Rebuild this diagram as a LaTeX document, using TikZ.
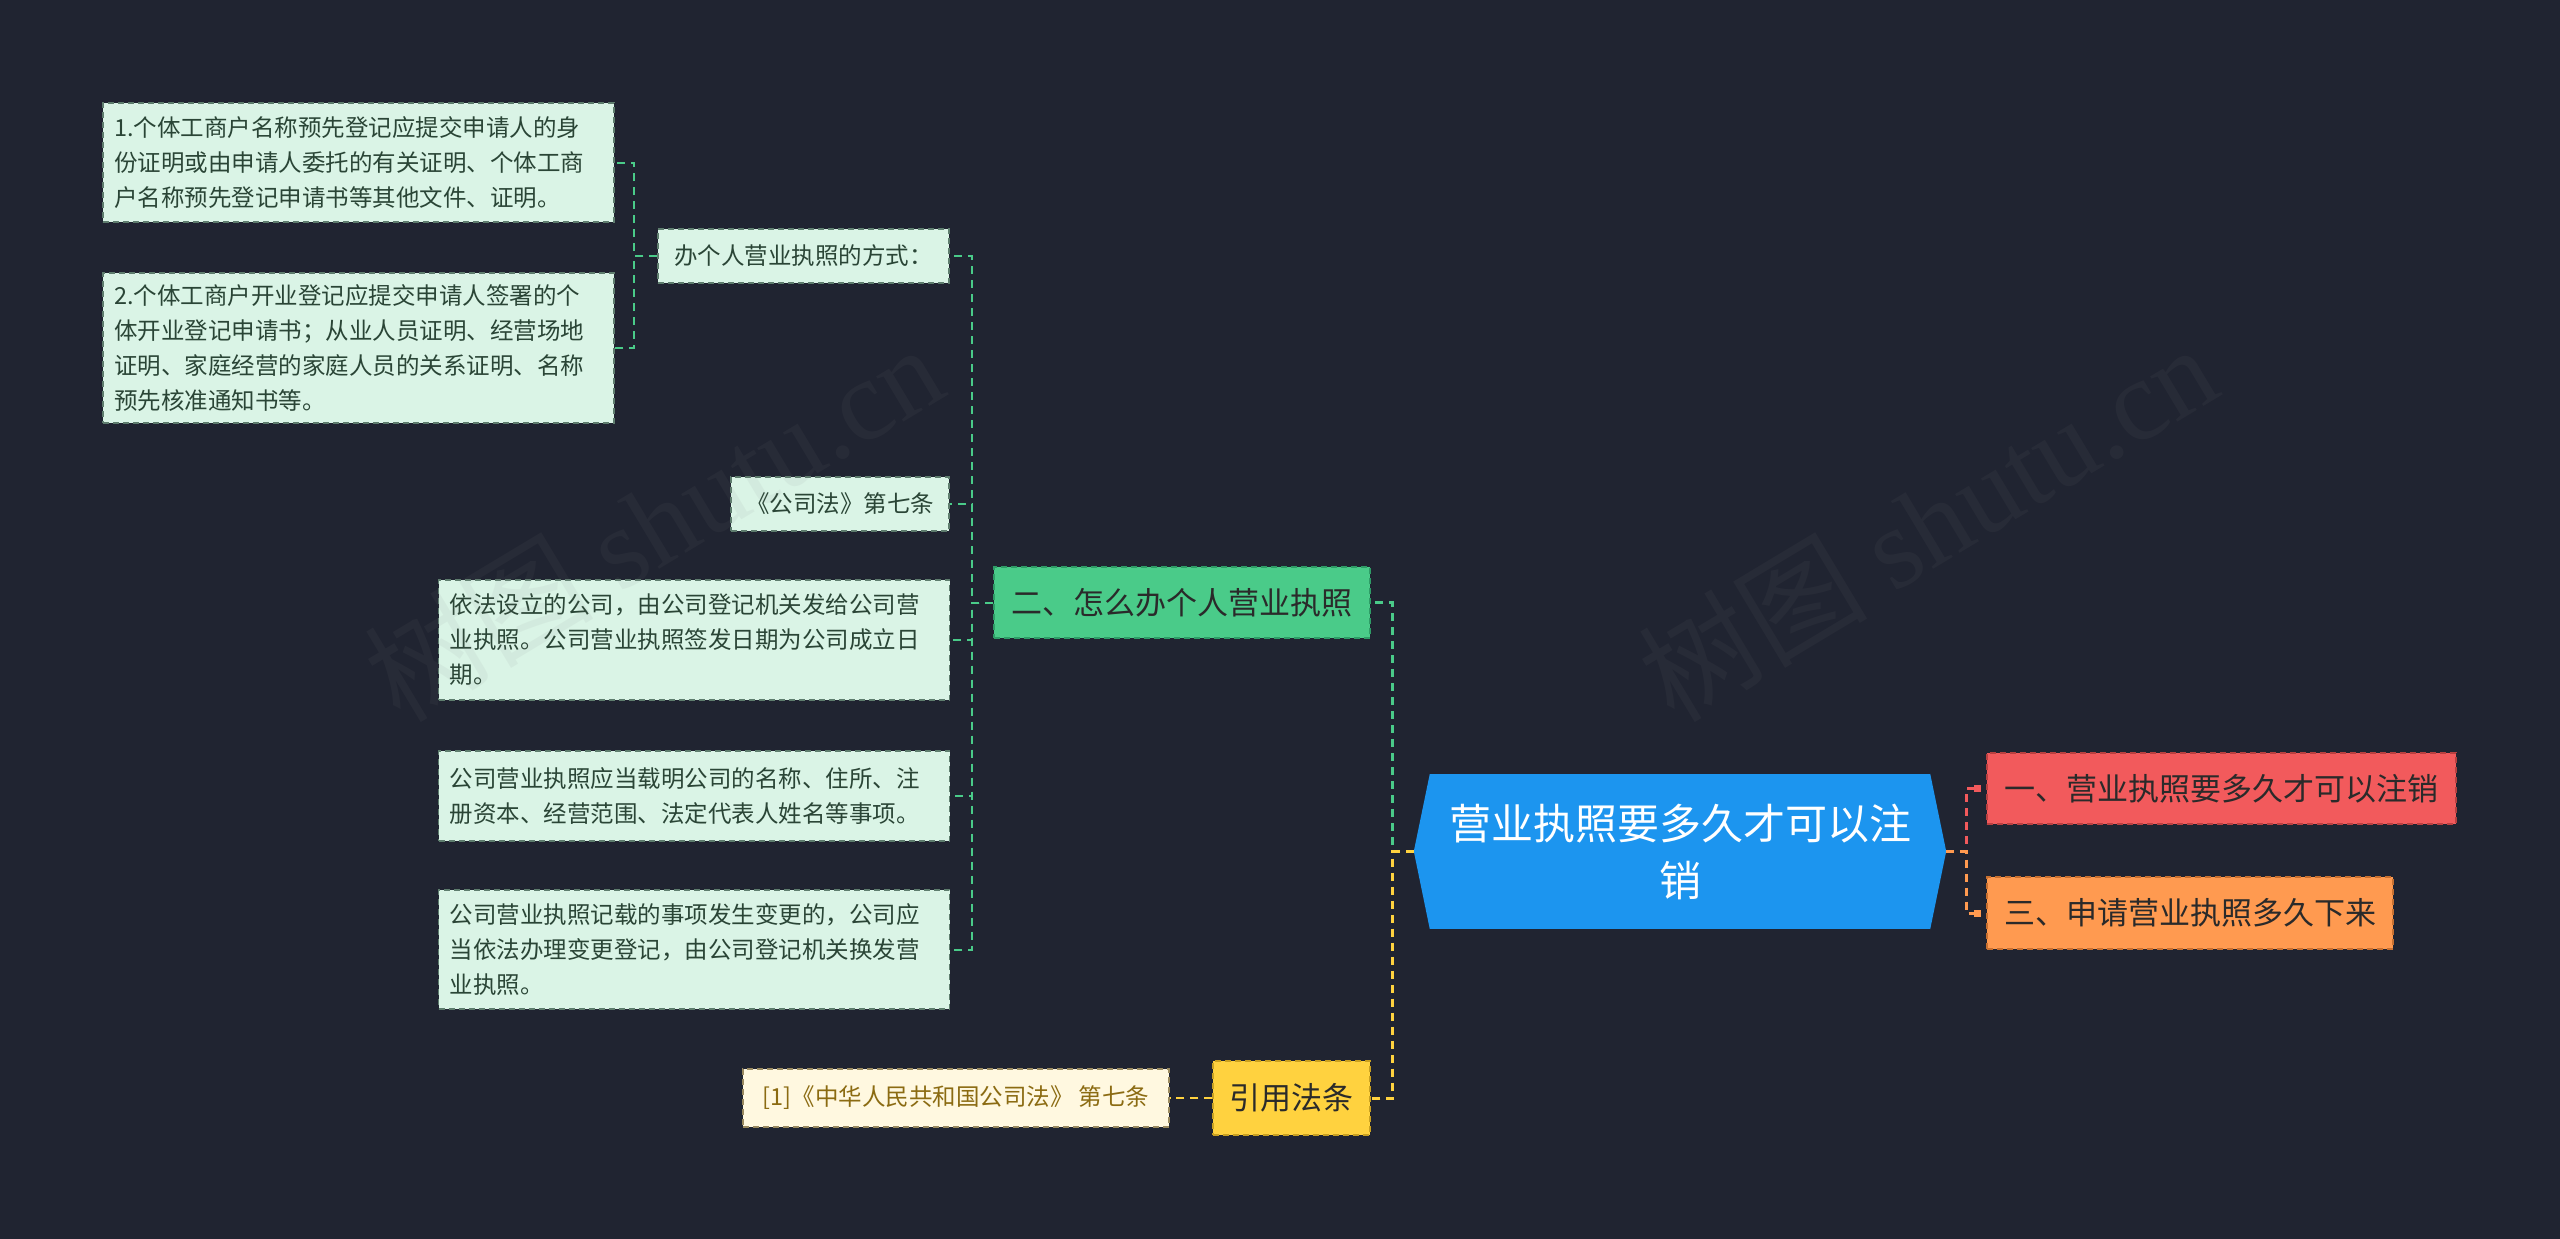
\documentclass[tikz,border=0pt]{standalone}
\usepackage{fontspec}
\setmainfont{Noto Sans CJK SC}
\newfontfamily\wmlatin{Liberation Serif}
\usetikzlibrary{arrows.meta}
\definecolor{bgc}{HTML}{202431}
\definecolor{rootblue}{HTML}{1C95EF}
\definecolor{grn}{HTML}{4ACB89}
\definecolor{grnd}{HTML}{2E9C66}
\definecolor{yel}{HTML}{FFD23F}
\definecolor{yeld}{HTML}{C9A020}
\definecolor{redc}{HTML}{F25A5C}
\definecolor{redd}{HTML}{B94040}
\definecolor{org}{HTML}{FF9A50}
\definecolor{orgd}{HTML}{C87030}
\definecolor{mint}{HTML}{DAF4E6}
\definecolor{mintd}{HTML}{5E7D6E}
\definecolor{leaftext}{HTML}{2A4536}
\definecolor{cream}{HTML}{FFF8E0}
\definecolor{creamd}{HTML}{9A8A60}
\definecolor{citetext}{HTML}{8B6B12}
\definecolor{darktext}{HTML}{2A2A2A}
\begin{document}
\begin{tikzpicture}[x=1pt,y=-1pt,
  leafbase/.style={rectangle, fill=mint, draw=mintd, dash pattern=on 6pt off 4pt, line width=1.2pt,
    text=leaftext, font=\fontsize{23.5}{35}\selectfont, inner xsep=11pt, inner ysep=0pt},
  leafmulti/.style={leafbase, text width=489pt, align=left},
  leafone/.style={leafbase, align=center},
  branch/.style={rectangle, dash pattern=on 6pt off 4pt, line width=1.5pt, text=darktext,
    font=\fontsize{31}{40}\selectfont, inner sep=0pt, align=center},
  rootbox/.style={rectangle, fill=rootblue, text=white, font=\fontsize{42}{57}\selectfont,
    inner sep=0pt, align=center, text width=480pt},
  conn/.style={line width=3pt, dash pattern=on 8pt off 6pt},
  subconn/.style={line width=2pt, dash pattern=on 8pt off 6pt},
  wm/.style={text=gray, opacity=0.08, font=\fontsize{115}{120}\selectfont, rotate=31}
]
\fill[bgc] (0,0) rectangle (2560,1239);
\useasboundingbox (0,0) rectangle (2560,1239);

% root
\node[rootbox, minimum width=500pt, minimum height=155pt] (root) at (1680,851.5) {营业执照要多久才可以注\\销};
\fill[rootblue] (root.north west) -- ++(-16,77.5) -- (root.south west) -- cycle;
\fill[rootblue] (root.north east) -- ++(16,77.5) -- (root.south east) -- cycle;
\path (root.west) ++(-16,0) coordinate (rootL);
\path (root.east) ++(16,0) coordinate (rootR);

% right branches
\node[branch, fill=redc, draw=redd, minimum width=469pt, minimum height=71pt] (red) at (2221.5,788.5) {一、营业执照要多久才可以注销};
\node[branch, fill=org, draw=orgd, minimum width=406pt, minimum height=72pt] (orange) at (2190,913) {三、申请营业执照多久下来};

% left branches
\node[branch, fill=grn, draw=grnd, minimum width=376pt, minimum height=71pt] (green) at (1182,602.5) {二、怎么办个人营业执照};
\node[branch, fill=yel, draw=yeld, minimum width=157pt, minimum height=74pt] (yellow) at (1291.5,1098) {引用法条};

% green children
\node[leafone, minimum width=291pt, minimum height=54pt] (way) at (803.5,256) {办个人营业执照的方式：};
\node[leafone, minimum width=218pt, minimum height=54pt] (law) at (840,504) {《公司法》第七条};
\node[leafmulti, minimum height=120pt] (l3) at (694,640) {依法设立的公司，由公司登记机关发给公司营\\业执照。公司营业执照签发日期为公司成立日\\期。};
\node[leafmulti, minimum height=90pt] (l4) at (694,796) {公司营业执照应当载明公司的名称、住所、注\\册资本、经营范围、法定代表人姓名等事项。};
\node[leafmulti, minimum height=119pt] (l5) at (694,949.5) {公司营业执照记载的事项发生变更的，公司应\\当依法办理变更登记，由公司登记机关换发营\\业执照。};

% way children
\node[leafmulti, minimum height=119pt] (l1) at (358.5,162.5) {1.个体工商户名称预先登记应提交申请人的身\\份证明或由申请人委托的有关证明、个体工商\\户名称预先登记申请书等其他文件、证明。};
\node[leafmulti, minimum height=150pt] (l2) at (358.5,348) {2.个体工商户开业登记应提交申请人签署的个\\体开业登记申请书；从业人员证明、经营场地\\证明、家庭经营的家庭人员的关系证明、名称\\预先核准通知书等。};

% citation
\node[rectangle, fill=cream, draw=creamd, dash pattern=on 6pt off 4pt, line width=1.2pt, text=citetext,
  font=\fontsize{23.5}{30}\selectfont, inner sep=0pt, minimum width=426pt, minimum height=58pt] (cite) at (956,1098) {[1]《中华人民共和国公司法》 第七条};

% connectors root
\draw[conn, grn] (rootL) -- ++(-21,0) |- (green.east);
\draw[conn, yel] (rootL) -- ++(-21,0) |- (yellow.east);
\draw[conn, redc, -{Square[length=7pt,width=7pt]}, shorten >=5pt] (rootR) -- ++(20,0) |- (red.west);
\draw[conn, org, -{Square[length=7pt,width=7pt]}, shorten >=5pt] (rootR) -- ++(20,0) |- (orange.west);

% connectors green
\foreach \c in {way,law,l3,l4,l5}
  \draw[subconn, grn] (green.west) -- ++(-21,0) |- (\c.east);
\foreach \c in {l1,l2}
  \draw[subconn, grn] (way.west) -- ++(-23,0) |- (\c.east);
\draw[subconn, yel] (yellow.west) -- (cite.east);

% watermarks
\node[wm] (wm1) at (653,522) {树图 {\wmlatin shutu.cn}};
\node[wm] (wm2) at (1927,522) {树图 {\wmlatin shutu.cn}};
\end{tikzpicture}
\end{document}
